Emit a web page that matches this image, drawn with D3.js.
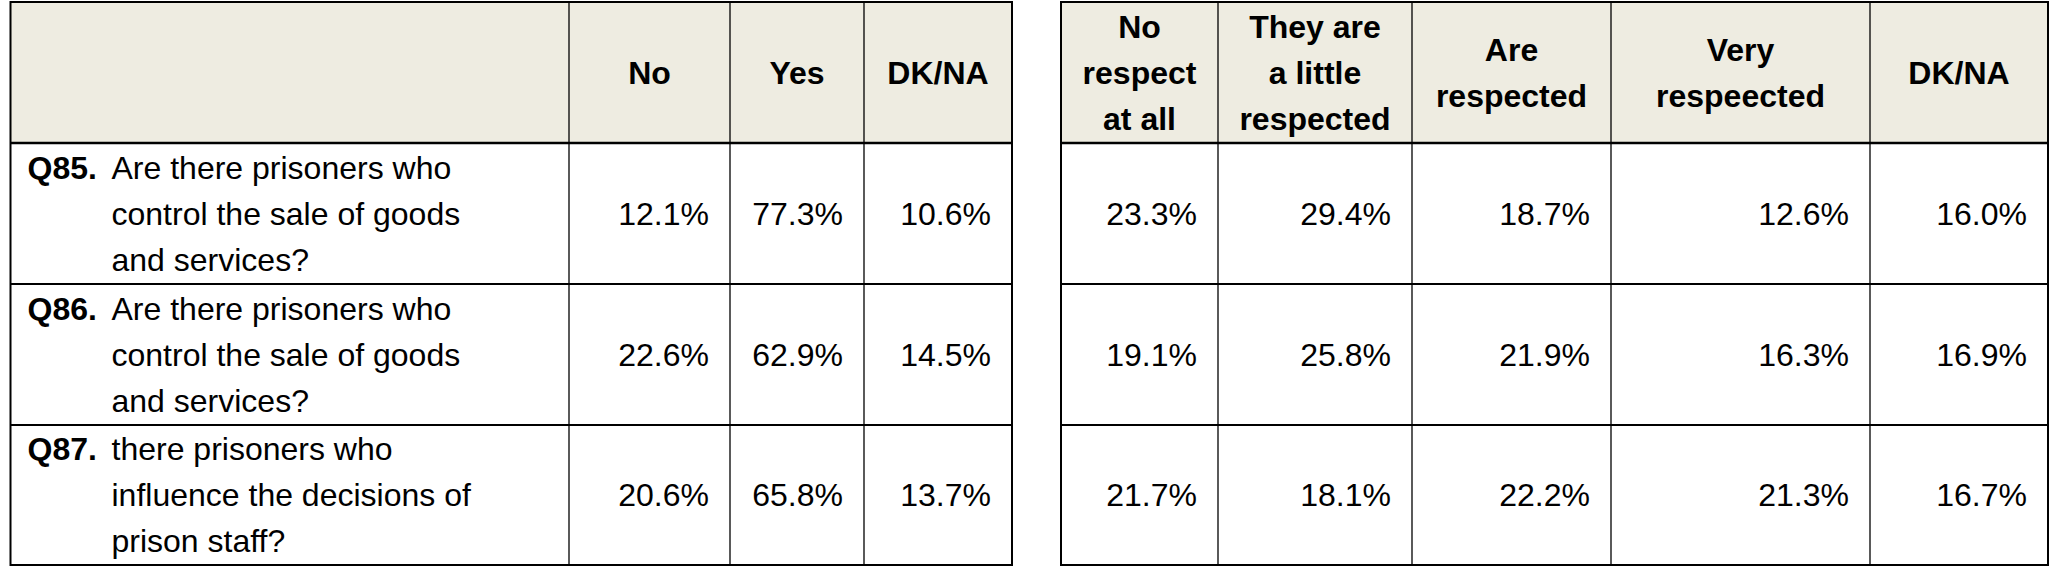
<!DOCTYPE html>
<html><head><meta charset="utf-8">
<script src="https://cdn.jsdelivr.net/npm/d3@7/dist/d3.min.js"></script>
<style>body{margin:0;background:#fff}</style></head>
<body><svg id="c" width="2057" height="574"></svg>
<script>
const questions = [
  ["Q85.", "Are there prisoners who", "control the sale of goods", "and services?"],
  ["Q86.", "Are there prisoners who", "control the sale of goods", "and services?"],
  ["Q87.", "there prisoners who", "influence the decisions of", "prison staff?"]
];
const leftHeaders = [["No"], ["Yes"], ["DK/NA"]];
const rightHeaders = [["No", "respect", "at all"], ["They are", "a little", "respected"], ["Are", "respected"], ["Very", "respeected"], ["DK/NA"]];
const leftValues = [[12.1, 77.3, 10.6], [22.6, 62.9, 14.5], [20.6, 65.8, 13.7]];
const rightValues = [[23.3, 29.4, 18.7, 12.6, 16.0], [19.1, 25.8, 21.9, 16.3, 16.9], [21.7, 18.1, 22.2, 21.3, 16.7]];

const svg = d3.select("#c");
const font = "'Liberation Sans Narrow','Liberation Sans',Arial,sans-serif";
const fs = 32, lh = 46;
const rowEdges = [2, 143, 284, 425, 565];
const y = d3.scaleLinear().domain([0, 4]).range([2, 565]);
function tbl(colEdges, headers, values, labelCol) {
  const g = svg.append("g");
  const x0 = colEdges[0], x1 = colEdges[colEdges.length - 1];
  g.append("rect").attr("x", x0).attr("y", rowEdges[0]).attr("width", x1 - x0).attr("height", rowEdges[1] - rowEdges[0]).attr("fill", "#EEECE1");
  // inner lines
  colEdges.slice(1, -1).forEach(cx => g.append("line").attr("x1", cx).attr("x2", cx).attr("y1", rowEdges[0]).attr("y2", rowEdges[4]).attr("stroke", "#000").attr("stroke-width", 1.3));
  rowEdges.slice(2, -1).forEach(ry => g.append("line").attr("x1", x0).attr("x2", x1).attr("y1", ry).attr("y2", ry).attr("stroke", "#000").attr("stroke-width", 1.8));
  g.append("line").attr("x1", x0).attr("x2", x1).attr("y1", rowEdges[1]).attr("y2", rowEdges[1]).attr("stroke", "#000").attr("stroke-width", 2.5);
  g.append("rect").attr("x", x0).attr("y", rowEdges[0]).attr("width", x1 - x0).attr("height", rowEdges[4] - rowEdges[0]).attr("fill", "none").attr("stroke", "#000").attr("stroke-width", 2);
  const off = labelCol ? 1 : 0;
  headers.forEach((h, i) => {
    const cx = (colEdges[i + off] + colEdges[i + off + 1]) / 2;
    const cy = (rowEdges[0] + rowEdges[1]) / 2;
    h.forEach((t, k) => g.append("text").attr("x", cx).attr("y", cy + (k - (h.length - 1) / 2) * lh).attr("dy", "0.35em")
      .attr("text-anchor", "middle").attr("font-family", font).attr("font-weight", "bold").attr("font-size", fs).attr("fill", "#000").text(t));
  });
  values.forEach((row, r) => {
    const cy = (rowEdges[r + 1] + rowEdges[r + 2]) / 2;
    row.forEach((v, i) => g.append("text").attr("x", colEdges[i + off + 1] - 21).attr("y", cy).attr("dy", "0.35em")
      .attr("text-anchor", "end").attr("font-family", font).attr("font-size", fs).attr("fill", "#000").text(v.toFixed(1) + "%"));
  });
  if (labelCol) {
    questions.forEach((q, r) => {
      const cy = (rowEdges[r + 1] + rowEdges[r + 2]) / 2;
      g.append("text").attr("x", colEdges[0] + 17).attr("y", cy - lh).attr("dy", "0.35em").attr("font-family", font).attr("font-weight", "bold").attr("font-size", fs).text(q[0]);
      q.slice(1).forEach((t, k) => g.append("text").attr("x", colEdges[0] + 101).attr("y", cy + (k - 1) * lh).attr("dy", "0.35em").attr("font-family", font).attr("font-size", fs).text(t));
    });
  }
}
tbl([10.5, 569, 730, 864, 1012], leftHeaders, leftValues, true);
tbl([1061, 1218, 1412, 1611, 1870, 2048], rightHeaders, rightValues, false);
</script></body></html>
